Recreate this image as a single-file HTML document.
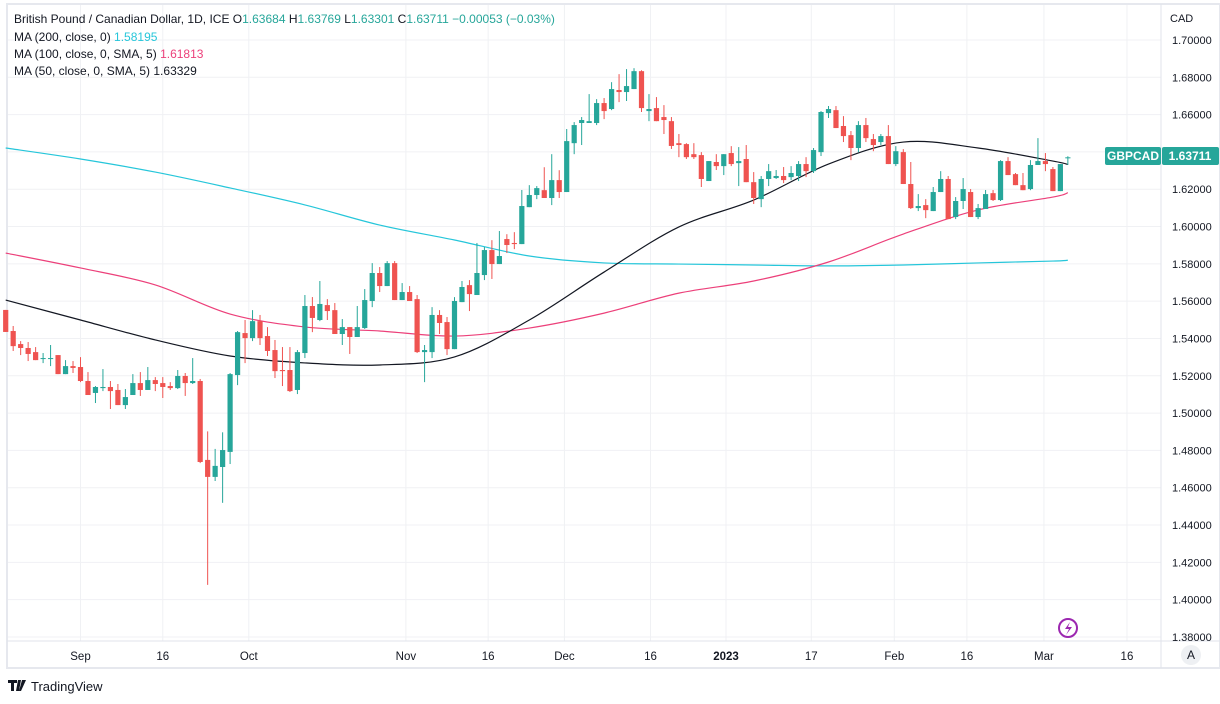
<!DOCTYPE html>
<html><head><meta charset="utf-8">
<style>
body{margin:0;background:#fff;font-family:"Liberation Sans",sans-serif;}
svg text{font-family:"Liberation Sans",sans-serif;}
</style></head>
<body>
<svg id="chart" width="1220" height="699" viewBox="0 0 1220 699" xmlns="http://www.w3.org/2000/svg">
<rect x="0" y="0" width="1220" height="699" fill="#fff"/>
<rect x="7" y="4" width="1213" height="664" fill="none" stroke="#e6e8ee" stroke-width="2"/>
<g id="grid"></g>
<g id="ma"></g>
<g id="candles"></g>
<line x1="1161" y1="4" x2="1161" y2="668" stroke="#e0e3eb"/>
<line x1="7" y1="641" x2="1220" y2="641" stroke="#e0e3eb"/>
<g id="yaxis"></g>
<g id="xaxis"></g>
<text x="1170" y="22" font-size="11" fill="#131722">CAD</text>
<g font-size="12" fill="#131722">
<text x="14" y="23">British Pound / Canadian Dollar, 1D, ICE  O<tspan fill="#26a69a">1.63684</tspan>  H<tspan fill="#26a69a">1.63769</tspan>  L<tspan fill="#26a69a">1.63301</tspan>  C<tspan fill="#26a69a">1.63711</tspan>  <tspan fill="#26a69a">−0.00053 (−0.03%)</tspan></text>
<text x="14" y="41">MA (200, close, 0)  <tspan fill="#26c6da">1.58195</tspan></text>
<text x="14" y="58">MA (100, close, 0, SMA, 5)  <tspan fill="#ec407a">1.61813</tspan></text>
<text x="14" y="75">MA (50, close, 0, SMA, 5)  1.63329</text>
</g>
<g>
<rect x="1105" y="147" width="56" height="18" rx="2" fill="#26a69a"/>
<text x="1133" y="160" font-size="12" fill="#fff" text-anchor="middle" font-weight="bold">GBPCAD</text>
<rect x="1162" y="147" width="57" height="18" rx="2" fill="#26a69a"/>
<text x="1190" y="160" font-size="12" fill="#fff" text-anchor="middle" font-weight="bold">1.63711</text>
</g>
<g>
<circle cx="1068" cy="628" r="9" fill="none" stroke="#9c27b0" stroke-width="2"/>
<path d="M1070 622 L1065 629 L1069 629 L1066 635 L1072 627 L1068 627 Z" fill="#9c27b0"/>
</g>
<g>
<circle cx="1191" cy="655" r="10" fill="#eef0f3"/>
<text x="1191" y="659" font-size="12" fill="#131722" text-anchor="middle">A</text>
</g>
<g>
<path d="M8 680 h9 v3 h-3 v8 h-3 v-8 h-3 Z M18 680 h3 l-2 11 h-3 Z M22 680 h4 l-5 11 h-2 Z" fill="#131722"/>
<text x="31" y="691" font-size="13" fill="#131722">TradingView</text>
</g>
</svg>
<script>
const opens=[1.5553,1.5440,1.5370,1.5349,1.5327,1.5290,1.5290,1.5311,1.5209,1.5252,1.5247,1.5172,1.5108,1.5134,1.5140,1.5124,1.5043,1.5097,1.5161,1.5124,1.5177,1.5161,1.5145,1.5134,1.5199,1.5161,1.5172,1.4749,1.4658,1.4711,1.4792,1.5204,1.5429,1.5402,1.5493,1.5413,1.5338,1.5231,1.5231,1.5124,1.5322,1.5574,1.5499,1.5579,1.5552,1.5424,1.5461,1.5408,1.5456,1.5601,1.5751,1.5681,1.5804,1.5606,1.5649,1.5611,1.5327,1.5327,1.5526,1.5488,1.5343,1.5595,1.5686,1.5633,1.5740,1.5874,1.5799,1.5933,1.5912,1.5906,1.6104,1.6169,1.6195,1.6153,1.6249,1.6185,1.6447,1.6555,1.6555,1.6555,1.6662,1.6630,1.6732,1.6721,1.6737,1.6833,1.6619,1.6635,1.6587,1.6565,1.6447,1.6442,1.6388,1.6383,1.6244,1.6346,1.6324,1.6394,1.6340,1.6362,1.6238,1.6147,1.6255,1.6260,1.6271,1.6265,1.6271,1.6335,1.6297,1.6399,1.6608,1.6624,1.6539,1.6490,1.6421,1.6544,1.6469,1.6453,1.6485,1.6335,1.6399,1.6228,1.6099,1.6115,1.6083,1.6185,1.6255,1.6051,1.6137,1.6185,1.6051,1.6094,1.6179,1.6142,1.6351,1.6281,1.6222,1.6201,1.6330,1.6351,1.6308,1.6190,1.63684];
const highs=[1.5553,1.5467,1.5386,1.5381,1.5354,1.5322,1.5365,1.5311,1.5284,1.5279,1.5300,1.5220,1.5145,1.5236,1.5172,1.5156,1.5129,1.5209,1.5220,1.5247,1.5193,1.5193,1.5166,1.5231,1.5215,1.5295,1.5183,1.4902,1.4808,1.4897,1.5215,1.5440,1.5499,1.5552,1.5526,1.5461,1.5392,1.5354,1.5354,1.5338,1.5633,1.5622,1.5708,1.5611,1.5590,1.5504,1.5461,1.5574,1.5665,1.5804,1.5783,1.5815,1.5815,1.5697,1.5681,1.5633,1.5365,1.5568,1.5552,1.5515,1.5622,1.5708,1.5713,1.5912,1.5890,1.5927,1.5976,1.5959,1.5970,1.6196,1.6222,1.6217,1.6318,1.6388,1.6302,1.6523,1.6560,1.6587,1.6710,1.6683,1.6689,1.6774,1.6817,1.6844,1.6849,1.6838,1.6710,1.6694,1.6651,1.6587,1.6496,1.6447,1.6447,1.6399,1.6351,1.6388,1.6388,1.6431,1.6426,1.6437,1.6292,1.6271,1.6335,1.6303,1.6319,1.6324,1.6351,1.6372,1.6421,1.6619,1.6646,1.6646,1.6592,1.6512,1.6565,1.6582,1.6496,1.6496,1.6544,1.6431,1.6415,1.6346,1.6174,1.6147,1.6212,1.6297,1.6271,1.6158,1.6260,1.6201,1.6121,1.6196,1.6196,1.6356,1.6372,1.6287,1.6287,1.6356,1.6474,1.6394,1.6319,1.6335,1.63769];
const lows=[1.5435,1.5333,1.5311,1.5279,1.5284,1.5268,1.5252,1.5209,1.5209,1.5215,1.5166,1.5097,1.5054,1.5118,1.5022,1.5043,1.5022,1.5097,1.5092,1.5124,1.5118,1.5081,1.5124,1.5129,1.5092,1.5156,1.4732,1.4079,1.4636,1.4519,1.4727,1.5150,1.5268,1.5386,1.5365,1.5306,1.5188,1.5145,1.5113,1.5102,1.5295,1.5434,1.5493,1.5499,1.5424,1.5365,1.5317,1.5408,1.5451,1.5568,1.5649,1.5681,1.5606,1.5606,1.5601,1.5322,1.5166,1.5295,1.5424,1.5311,1.5343,1.5595,1.5547,1.5633,1.5713,1.5719,1.5799,1.5858,1.5879,1.5906,1.6104,1.6147,1.6153,1.6115,1.6153,1.6185,1.6388,1.6437,1.6555,1.6544,1.6576,1.6624,1.6667,1.6673,1.6737,1.6614,1.6565,1.6565,1.6496,1.6416,1.6372,1.6362,1.6362,1.6212,1.6244,1.6303,1.6276,1.6324,1.6217,1.6238,1.6121,1.6104,1.6217,1.6255,1.6233,1.6249,1.6244,1.6265,1.6287,1.6378,1.6582,1.6528,1.6453,1.6356,1.6399,1.6453,1.6404,1.6437,1.6335,1.6324,1.6228,1.6094,1.6083,1.6045,1.6083,1.6185,1.6040,1.6040,1.6094,1.6051,1.6040,1.6094,1.6137,1.6137,1.6276,1.6222,1.6195,1.6195,1.6330,1.6297,1.6190,1.6190,1.63301];
const closes=[1.5435,1.5359,1.5349,1.5317,1.5284,1.5295,1.5295,1.5209,1.5252,1.5242,1.5172,1.5097,1.5140,1.5140,1.5118,1.5043,1.5086,1.5161,1.5124,1.5177,1.5156,1.5140,1.5134,1.5199,1.5161,1.5172,1.4738,1.4658,1.4717,1.4802,1.5209,1.5434,1.5402,1.5493,1.5402,1.5333,1.5225,1.5225,1.5118,1.5327,1.5574,1.5510,1.5585,1.5547,1.5424,1.5461,1.5408,1.5461,1.5606,1.5751,1.5681,1.5804,1.5606,1.5649,1.5601,1.5327,1.5338,1.5526,1.5483,1.5343,1.5601,1.5676,1.5638,1.5751,1.5874,1.5799,1.5842,1.5901,1.5906,1.6110,1.6169,1.6206,1.6153,1.6249,1.6185,1.6458,1.6544,1.6571,1.6565,1.6662,1.6619,1.6737,1.6721,1.6753,1.6833,1.6635,1.6630,1.6565,1.6571,1.6432,1.6437,1.6372,1.6372,1.6255,1.6351,1.6324,1.6388,1.6335,1.6351,1.6238,1.6153,1.6255,1.6297,1.6271,1.6249,1.6287,1.6335,1.6297,1.6410,1.6614,1.6630,1.6528,1.6485,1.6421,1.6544,1.6474,1.6437,1.6485,1.6335,1.6404,1.6228,1.6099,1.6110,1.6088,1.6185,1.6255,1.6040,1.6137,1.6201,1.6051,1.6099,1.6174,1.6142,1.6351,1.6276,1.6222,1.6195,1.6330,1.6351,1.6335,1.6190,1.6335,1.63711];
const maIndex=[0,10,20,30,40,50,60,70,80,90,100,110,120,130,140,142];
const ma200=[1.6421,1.6362,1.6292,1.6207,1.6116,1.6008,1.5928,1.5842,1.5805,1.5799,1.5794,1.5789,1.5794,1.5805,1.5815,1.58195];
const ma100=[1.5858,1.5778,1.5687,1.5531,1.5462,1.5440,1.5413,1.5456,1.5536,1.5643,1.5708,1.5810,1.5960,1.6089,1.6158,1.61813];
const ma50=[1.5606,1.5499,1.5392,1.5306,1.5269,1.5258,1.5301,1.5499,1.5756,1.5998,1.6142,1.6335,1.6453,1.6421,1.6351,1.63329];
const priceTicks=[1.70,1.68,1.66,1.64,1.62,1.60,1.58,1.56,1.54,1.52,1.50,1.48,1.46,1.44,1.42,1.40,1.38];
const timeLabels=["Sep","16","Oct","Nov","16","Dec","16","2023","17","Feb","16","Mar","16"];
const timeLabelIdx=[10,21,32.5,53.5,64.5,74.7,86.2,96.3,107.7,118.8,128.5,138.8,149.9];

const NS="http://www.w3.org/2000/svg";
function yS(p){return 40+(1.70-p)/0.02*37.31;}
function xS(i){return 5.7+7.48*i;}
function mk(tag,attrs,parent){const e=document.createElementNS(NS,tag);for(const k in attrs)e.setAttribute(k,attrs[k]);parent.appendChild(e);return e;}
const grid=document.getElementById('grid'),yax=document.getElementById('yaxis'),xax=document.getElementById('xaxis');
priceTicks.forEach(p=>{
  const y=yS(p);
  const g=mk('line',{x1:8,x2:1161,y1:y,y2:y,stroke:'#f0f1f4'},grid);
  
  
  const t=mk('text',{x:1172,y:y+4,'font-size':11,fill:'#131722'},yax);
  t.textContent=p.toFixed(5);
  
  
});
timeLabels.forEach((l,k)=>{
  const x=xS(timeLabelIdx[k]);
  if(x<1161){
    const g=mk('line',{x1:x,x2:x,y1:5,y2:641,stroke:'#f0f1f4'},grid);
    
    
  }
  const t=mk('text',{x:x,y:660,'font-size':11.5,fill:'#131722','text-anchor':'middle','font-weight':l==='2023'?'bold':'normal'},xax);
  t.textContent=l;
  
  
});
const maG=document.getElementById('ma');
[[ma200,'#26c6da','ma200-line'],[ma100,'#ec407a','ma100-line'],[ma50,'#131722','ma50-line']].forEach(([arr,c,n])=>{
  const pts=arr.map((v,k)=>[xS(maIndex[k]),yS(v)]);
  let d='M'+pts[0][0]+' '+pts[0][1];
  for(let k=0;k<pts.length-1;k++){
    const p0=pts[Math.max(0,k-1)],p1=pts[k],p2=pts[k+1],p3=pts[Math.min(pts.length-1,k+2)];
    const c1=[p1[0]+(p2[0]-p0[0])/6,p1[1]+(p2[1]-p0[1])/6],c2=[p2[0]-(p3[0]-p1[0])/6,p2[1]-(p3[1]-p1[1])/6];
    d+=' C'+c1[0]+' '+c1[1]+' '+c2[0]+' '+c2[1]+' '+p2[0]+' '+p2[1];
  }
  const e=mk('path',{d:d,fill:'none',stroke:c,'stroke-width':1.2},maG);
  
  
});
const cg=document.getElementById('candles');
opens.forEach((o,i)=>{
  const c=closes[i],up=c>=o,col=up?'#26a69a':'#ef5350',x=xS(i);
  const w=mk('line',{x1:x,x2:x,y1:yS(highs[i]),y2:yS(lows[i]),stroke:col,'stroke-width':1},cg);
  
  
  const top=yS(Math.max(o,c)),bot=yS(Math.min(o,c));
  const b=mk('rect',{x:x-2.6,y:top,width:5.2,height:Math.max(1,bot-top),fill:col},cg);
  
  
});
</script>
</body></html>
